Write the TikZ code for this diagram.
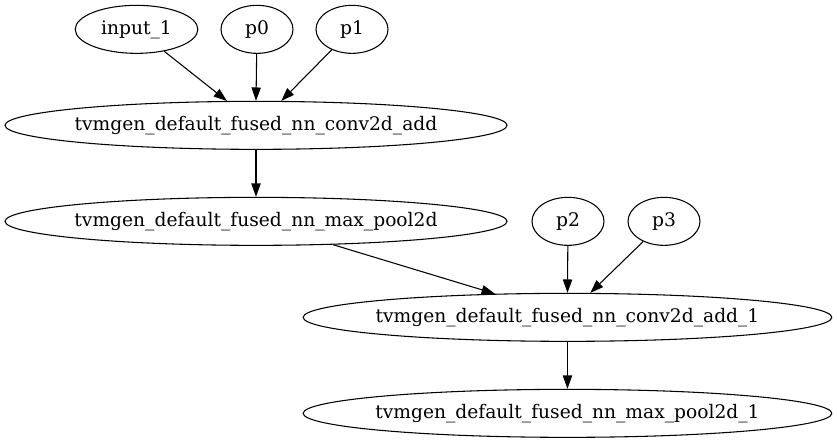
\documentclass[tikz,border=0pt]{standalone}
\usepackage{fontspec}
\setmainfont{DejaVu Serif}
\usepackage{tikz}
\usetikzlibrary{arrows.meta,shapes.geometric}

\begin{document}
\begin{tikzpicture}[x=1pt,y=1pt]
	\tikzset{gnode/.style={draw,ellipse,inner xsep=-8pt,inner ysep=0pt,minimum height=36pt,line width=0.8pt,font=\fontsize{14}{17}\selectfont},
		op/.style={gnode,minimum width=376.5pt},
		op1/.style={gnode,minimum width=396.5pt},
		>={Triangle[length=10pt,width=7pt]}}
	\useasboundingbox (0,0) rectangle (627.75,-332.25);
	\node[gnode,minimum width=92pt] (in1) at (102.4,-22) {input\_1};
	\node[gnode,minimum width=54pt] (p0) at (192.75,-22) {p0};
	\node[gnode,minimum width=54pt] (p1) at (264,-22) {p1};
	\node[op] (conv0) at (192,-94) {tvmgen\_default\_fused\_nn\_conv2d\_add};
	\node[op] (pool0) at (192,-166) {tvmgen\_default\_fused\_nn\_max\_pool2d};
	\node[gnode,minimum width=54pt] (p2) at (426,-166) {p2};
	\node[gnode,minimum width=54pt] (p3) at (498,-166) {p3};
	\node[op1] (conv1) at (425.6,-238) {tvmgen\_default\_fused\_nn\_conv2d\_add\_1};
	\node[op1] (pool1) at (425.6,-310) {tvmgen\_default\_fused\_nn\_max\_pool2d\_1};
	\path[->,line width=0.8pt]
		(in1) edge (conv0.140)
		(p0) edge (conv0.north)
		(p1) edge (conv0.44)
		(conv0) edge (pool0)
		(pool0) edge (conv1.162)
		(p2) edge (conv1.north)
		(p3) edge (conv1.47)
		(conv1) edge (pool1);
\end{tikzpicture}
\end{document}
